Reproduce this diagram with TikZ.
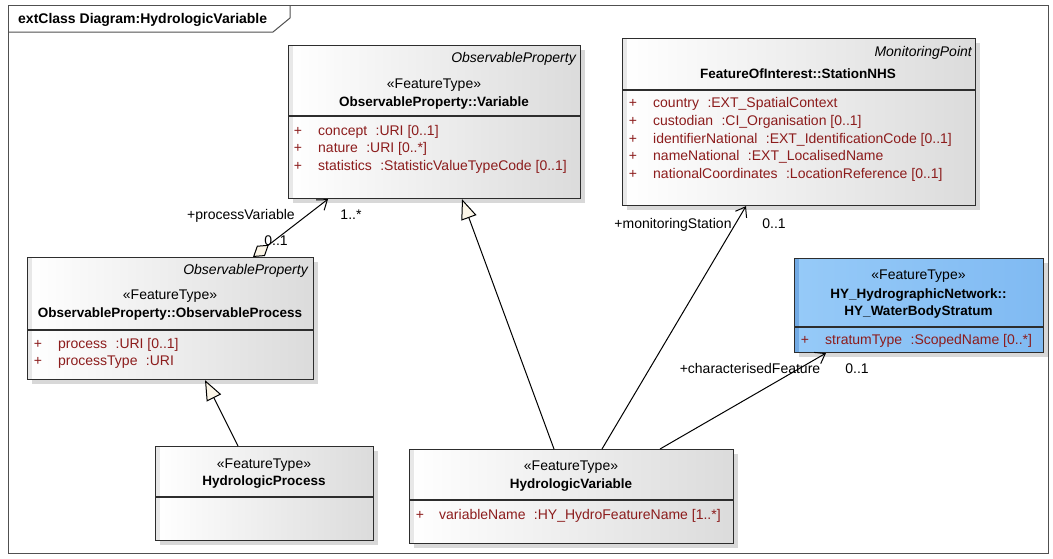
\documentclass[tikz,border=0pt]{standalone}
\usepackage{fontspec}
\setmainfont{Liberation Sans}
\usetikzlibrary{arrows.meta,shadows}

\definecolor{attrred}{RGB}{140,28,28}
\definecolor{cream}{RGB}{252,246,232}
\definecolor{edgegray}{RGB}{45,45,45}
\definecolor{framegray}{RGB}{80,80,80}
\definecolor{blueL}{RGB}{150,202,248}
\definecolor{blueR}{RGB}{128,186,242}
\definecolor{blueS}{RGB}{114,170,228}

\newcommand{\gap}{\hspace{0.6em}}

\begin{document}
\begin{tikzpicture}[x=1pt,y=-1pt,
  font=\fontsize{14}{16}\selectfont,
  boxbase/.style={draw=edgegray, line width=1.1pt, anchor=north west, inner sep=0pt,
    drop shadow={shadow xshift=4pt,shadow yshift=-4pt,fill=black!30}},
  classbox/.style={boxbase, left color=white, right color=black!14,
    path picture={\fill[black!9] ([xshift=0.6pt]path picture bounding box.north west)
      rectangle ([xshift=4pt]path picture bounding box.south west);}},
  bluebox/.style={boxbase, left color=blueL, right color=blueR,
    path picture={\fill[blueS] ([xshift=0.6pt]path picture bounding box.north west)
      rectangle ([xshift=4pt]path picture bounding box.south west);}},
  sep/.style={draw=edgegray, line width=1.1pt},
  txt/.style={anchor=base, inner sep=0pt},
  tag/.style={anchor=base east, inner sep=0pt, font=\fontsize{14}{16}\selectfont\itshape},
  cname/.style={txt, font=\fontsize{13.5}{16}\selectfont\bfseries},
  plus/.style={anchor=base, inner sep=0pt, text=attrred},
  attr/.style={anchor=base west, inner sep=0pt, text=attrred},
  role/.style={anchor=base, inner sep=0pt},
  assoc/.style={draw=black, line width=1pt},
  barb/.tip={Straight Barb[length=9pt,width=13pt]},
  gen/.style={draw=black, line width=1pt, -{Triangle[fill=cream,length=20pt,width=16pt]}}
]
\useasboundingbox (0,0) rectangle (1053,558);
\fill[white] (0,0) rectangle (1053,558);

% diagram frame with its name tab
\draw[framegray, line width=1pt] (8,5) rectangle (1048,553);
\draw[framegray, line width=1pt] (8,32) -- (273,32) -- (290,18) -- (290,5);
\node[anchor=base west, inner sep=0pt, font=\fontsize{14}{16}\selectfont\bfseries] (title) at (18,23) {extClass Diagram:HydrologicVariable};

% ObservableProperty::Variable
\node[classbox, minimum width=292pt, minimum height=153pt] (var) at (288,45) {};
\draw[sep] (var.west |- 0,116) -- (var.east |- 0,116);
\node[tag] (vartag) at (576,62) {ObservableProperty};
\node[txt] (varst) at (434,88) {«FeatureType»};
\node[cname] (varname) at (434,106) {ObservableProperty::Variable};
\node[plus] (vp1) at (298,135) {+};
\node[attr] (va1) at (318,135) {concept\gap:URI [0..1]};
\node[plus] (vp2) at (298,152) {+};
\node[attr] (va2) at (318,152) {nature\gap:URI [0..*]};
\node[plus] (vp3) at (298,170) {+};
\node[attr] (va3) at (318,170) {statistics\gap:StatisticValueTypeCode [0..1]};

% FeatureOfInterest::StationNHS
\node[classbox, minimum width=353pt, minimum height=167pt] (station) at (622,38) {};
\draw[sep] (station.west |- 0,90) -- (station.east |- 0,90);
\node[tag] (sttag) at (972,56) {MonitoringPoint};
\node[cname] (stname) at (798,78) {FeatureOfInterest::StationNHS};
\node[plus] (sp1) at (633,107) {+};
\node[attr] (sa1) at (653,107) {country\gap:EXT\_SpatialContext};
\node[plus] (sp2) at (633,125) {+};
\node[attr] (sa2) at (653,125) {custodian\gap:CI\_Organisation [0..1]};
\node[plus] (sp3) at (633,143) {+};
\node[attr] (sa3) at (653,143) {identifierNational\gap:EXT\_IdentificationCode [0..1]};
\node[plus] (sp4) at (633,160) {+};
\node[attr] (sa4) at (653,160) {nameNational\gap:EXT\_LocalisedName};
\node[plus] (sp5) at (633,178) {+};
\node[attr] (sa5) at (653,178) {nationalCoordinates\gap:LocationReference [0..1]};

% ObservableProperty::ObservableProcess
\node[classbox, minimum width=286pt, minimum height=122pt] (proc) at (27,257) {};
\draw[sep] (proc.west |- 0,330) -- (proc.east |- 0,330);
\node[tag] (proctag) at (308,274) {ObservableProperty};
\node[txt] (procst) at (170,299) {«FeatureType»};
\node[cname] (procname) at (170,317) {ObservableProperty::ObservableProcess};
\node[plus] (pp1) at (38,348) {+};
\node[attr] (pa1) at (58,348) {process\gap:URI [0..1]};
\node[plus] (pp2) at (38,365) {+};
\node[attr] (pa2) at (58,365) {processType\gap:URI};

% HY_HydrographicNetwork::HY_WaterBodyStratum
\node[bluebox, minimum width=249pt, minimum height=94pt] (strat) at (794,258) {};
\draw[sep] (strat.west |- 0,327) -- (strat.east |- 0,327);
\node[txt] (stratst) at (918.5,279) {«FeatureType»};
\node[cname] (stratname1) at (918.5,298) {HY\_HydrographicNetwork::};
\node[cname] (stratname2) at (918.5,315) {HY\_WaterBodyStratum};
\node[plus] (tp1) at (805,344) {+};
\node[attr] (ta1) at (825,344) {stratumType\gap:ScopedName [0..*]};

% HydrologicProcess
\node[classbox, minimum width=218pt, minimum height=94pt] (hproc) at (155,446) {};
\draw[sep] (hproc.west |- 0,497) -- (hproc.east |- 0,497);
\node[txt] (hprocst) at (264,468) {«FeatureType»};
\node[cname] (hprocname) at (264,485) {HydrologicProcess};

% HydrologicVariable
\node[classbox, minimum width=324pt, minimum height=94pt] (hvar) at (409,449) {};
\draw[sep] (hvar.west |- 0,500) -- (hvar.east |- 0,500);
\node[txt] (hvarst) at (571,470) {«FeatureType»};
\node[cname] (hvarname) at (571,488) {HydrologicVariable};
\node[plus] (hp1) at (420,519) {+};
\node[attr] (ha1) at (439,519) {variableName\gap:HY\_HydroFeatureName [1..*]};

% associations
\draw[assoc, {Diamond[fill=cream,length=20pt,width=13pt]}-barb]
  (253,0 |- proc.north) -- (328,0 |- var.south);
\draw[assoc, -barb] (602,0 |- hvar.north) -- (746,0 |- station.south);
\draw[assoc, -barb] (660,0 |- hvar.north) -- (826,0 |- strat.south);

% generalizations
\draw[gen] (238,0 |- hproc.north) -- (205,0 |- proc.south);
\draw[gen] (554,0 |- hvar.north) -- (462,0 |- var.south);

% role names and multiplicities
\node[role] (lpv) at (241,219) {+processVariable};
\node[role] (lpvm) at (351,219) {1..*};
\node[role] (lpvs) at (276,245) {0..1};
\node[role] (lms) at (673,228) {+monitoringStation};
\node[role] (lmsm) at (774,228) {0..1};
\node[role] (lcf) at (750,373) {+characterisedFeature};
\node[role] (lcfm) at (857,373) {0..1};
\end{tikzpicture}
\end{document}
